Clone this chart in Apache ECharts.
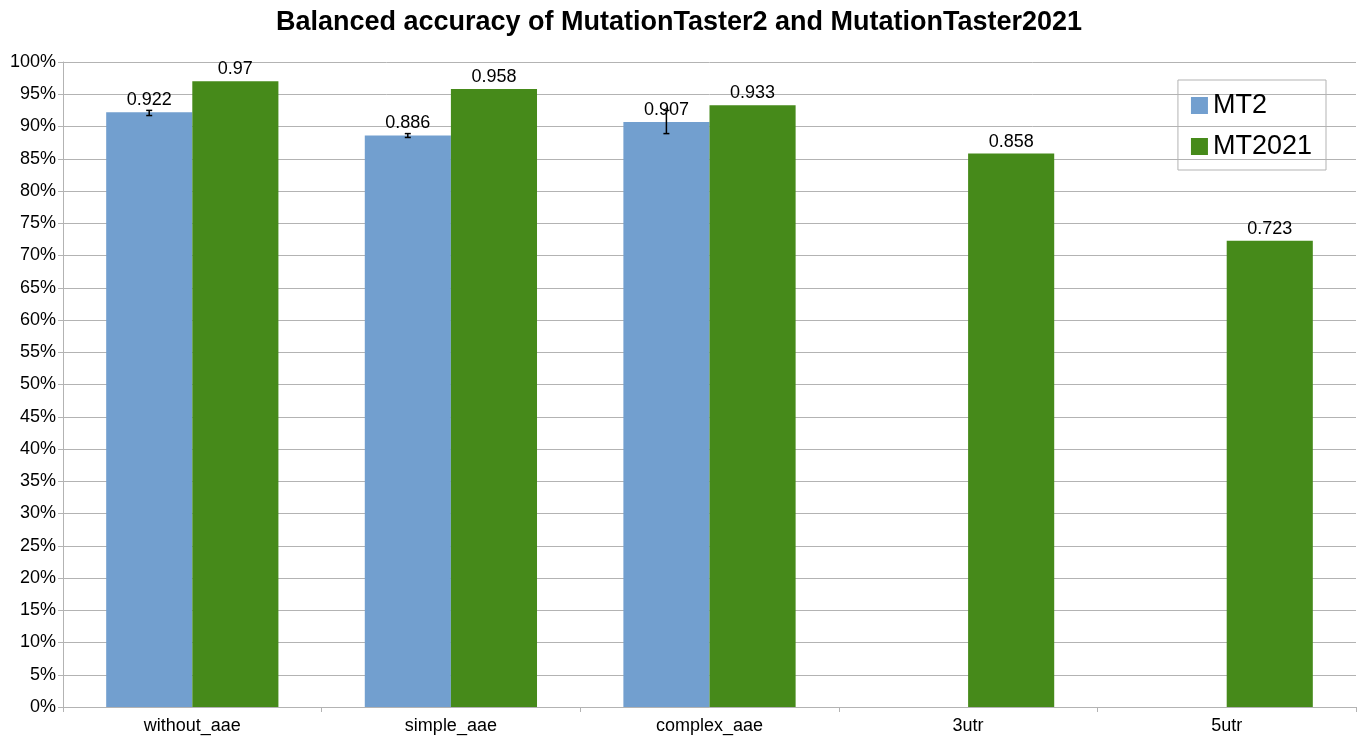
<!DOCTYPE html>
<html lang="en">
<head>
    <meta charset="UTF-8">
    <title>Balanced accuracy</title>
    <script src="https://cdn.jsdelivr.net/npm/echarts@6/dist/echarts.min.js"></script>
    <style>html,body{margin:0;padding:0;background:#fff;}</style>
</head>
<body>
<div id="main" style="width: 1358px;height:737px;"></div>
<script>
    var categories = ['without_aae', 'simple_aae', 'complex_aae', '3utr', '5utr'];
    var mt2 = [0.922, 0.886, 0.907, null, null];
    var mt2021 = [0.97, 0.958, 0.933, 0.858, 0.723];
    // error bar ends for MT2
    var mt2Low = [0.917, 0.883, 0.889, null, null];
    var mt2High = [0.925, 0.889, 0.925, null, null];

    var font = 'Liberation Sans, Arial, sans-serif';
    var myChart = echarts.init(document.getElementById('main'));

    var errData = [];
    for (var i = 0; i < categories.length; i++) {
        if (mt2Low[i] != null) errData.push([i, mt2Low[i], mt2High[i]]);
    }

    var option = {
        animation: false,
        title: {
            text: 'Balanced accuracy of MutationTaster2 and MutationTaster2021',
            left: 'center',
            top: 4,
            textStyle: {fontFamily: font, fontSize: 27, fontWeight: 'bold', color: '#000'}
        },
        legend: {
            orient: 'vertical',
            right: 32,
            top: 80,
            padding: [12, 14, 10, 13],
            borderColor: '#b3b3b3',
            borderWidth: 1,
            itemWidth: 17,
            itemHeight: 17,
            itemGap: 14,
            icon: 'rect',
            textStyle: {fontFamily: font, fontSize: 27, color: '#000'},
            data: ['MT2', 'MT2021']
        },
        grid: {left: 63, right: 2, top: 62, bottom: 30},
        xAxis: {
            type: 'category',
            data: categories,
            axisLine: {lineStyle: {color: '#b3b3b3'}},
            axisTick: {show: true, length: 5, lineStyle: {color: '#b3b3b3'}},
            axisLabel: {fontFamily: font, fontSize: 18, color: '#000', margin: 10}
        },
        yAxis: {
            type: 'value',
            min: 0,
            max: 1,
            interval: 0.05,
            axisLine: {show: true, lineStyle: {color: '#b3b3b3'}},
            axisTick: {show: true, length: 5, lineStyle: {color: '#b3b3b3'}},
            splitLine: {lineStyle: {color: '#b3b3b3'}},
            axisLabel: {
                fontFamily: font, fontSize: 18, color: '#000', margin: 7,
                formatter: function (v) { return Math.round(v * 100) + '%'; }
            }
        },
        series: [
            {
                name: 'MT2',
                type: 'bar',
                data: mt2,
                barWidth: '33.3%',
                barGap: '0%',
                itemStyle: {color: '#729fcf'},
                label: {show: true, position: 'top', distance: 3, fontFamily: font, fontSize: 18, color: '#000'}
            },
            {
                name: 'MT2021',
                type: 'bar',
                data: mt2021,
                barWidth: '33.3%',
                barGap: '0%',
                itemStyle: {color: '#468a1a'},
                label: {show: true, position: 'top', distance: 3, fontFamily: font, fontSize: 18, color: '#000'}
            },
            {
                name: 'err',
                type: 'custom',
                data: errData,
                z: 10,
                renderItem: function (params, api) {
                    var band = api.size([1, 0])[0];
                    var lo = api.coord([api.value(0), api.value(1)]);
                    var hi = api.coord([api.value(0), api.value(2)]);
                    var x = lo[0] - band / 6;
                    var w = 3;
                    var st = {stroke: '#000', lineWidth: 1.5};
                    return {
                        type: 'group',
                        children: [
                            {type: 'line', shape: {x1: x, y1: lo[1], x2: x, y2: hi[1]}, style: st},
                            {type: 'line', shape: {x1: x - w, y1: lo[1], x2: x + w, y2: lo[1]}, style: st},
                            {type: 'line', shape: {x1: x - w, y1: hi[1], x2: x + w, y2: hi[1]}, style: st}
                        ]
                    };
                }
            }
        ]
    };
    myChart.setOption(option);
</script>
</body>
</html>
